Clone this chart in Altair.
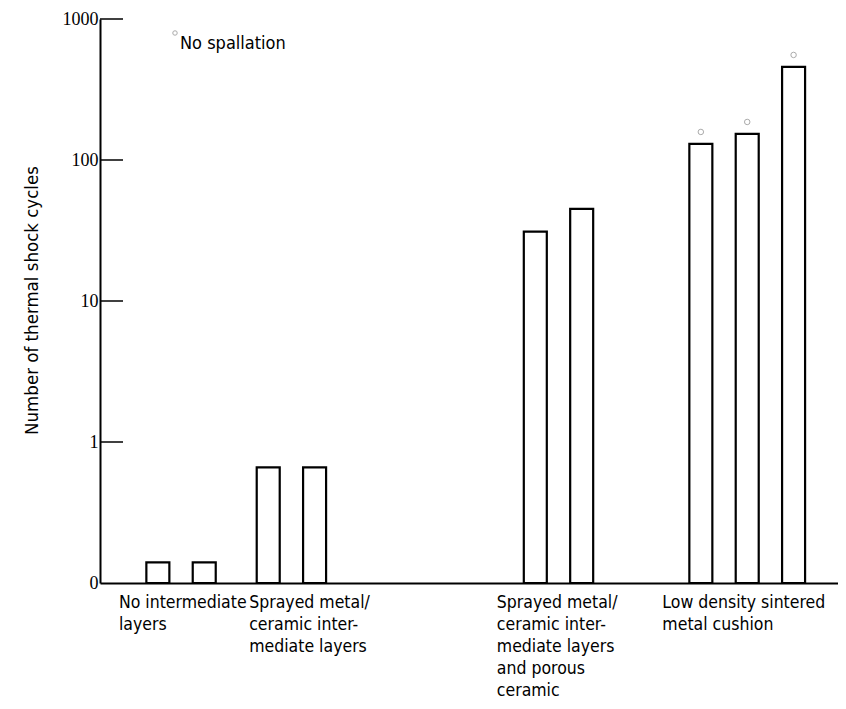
import altair as alt
import pandas as pd

# ---- data ----
groups = [
    "No intermediate\nlayers",
    "Sprayed metal/\nceramic inter-\nmediate layers",
    "Sprayed metal/\nceramic inter-\nmediate layers\nand porous\nceramic",
    "Low density sintered\nmetal cushion",
]
bar_group = [0, 0, 1, 1, 2, 2, 3, 3, 3]
cycles = [0.14, 0.14, 0.66, 0.66, 31, 45, 130, 153, 457]
no_spallation = [False, False, False, False, False, False, True, True, True]
y_ticks = [0.1, 1, 10, 100, 1000]
y_title = "Number of thermal shock cycles"
legend_text = "No spallation"

# ---- layout constants (x in units of one bar pitch) ----
GROUP_CENTER = [1.64, 4.02, 9.78, 13.85]
LABEL_LEFT = [0.30, 3.11, 8.45, 12.02]
PITCH = 1.0
X_MAX = 15.7
W, H = 738, 564
NARROW = "Liberation Sans Narrow, DejaVu Sans Condensed, Roboto Condensed, Arial Narrow, DejaVu Sans, sans-serif"
SERIF = "Liberation Serif, DejaVu Serif, serif"

rows = []
for g in range(len(groups)):
    idx = [i for i, b in enumerate(bar_group) if b == g]
    n = len(idx)
    for k, i in enumerate(idx):
        rows.append({
            "x": GROUP_CENTER[g] + (k - (n - 1) / 2) * PITCH,
            "cycles": cycles[i],
            "base": 0.1,
            "nospall": no_spallation[i],
        })
bars_df = pd.DataFrame(rows)
labels_df = pd.DataFrame({"x": LABEL_LEFT, "label": groups})
ticks_df = pd.DataFrame({"cycles": [v for v in y_ticks if v > 0.1]})

xscale = alt.Scale(domain=[0, X_MAX], nice=False, zero=False)
yscale = alt.Scale(type="log", domain=[0.1, 1000], nice=False)

x_axis = alt.Axis(
    labels=False, ticks=False, grid=False, title="",
    domainColor="black", domainWidth=2)
y_axis = alt.Axis(
    values=y_ticks,
    labelExpr="datum.value < 0.5 ? '0' : format(datum.value, 'd')",
    ticks=False, grid=False, domainColor="black", domainWidth=2,
    labelFont=SERIF, labelFontSize=18, labelPadding=2, labelColor="black",
    title=y_title, titleFont=NARROW, titleFontSize=18.5, titleFontWeight="normal",
    titleColor="black", titleX=-59, titleY=281, titleAngle=270,
    titleAlign="center", titleBaseline="bottom")

X = alt.X("x:Q", scale=xscale, axis=x_axis)
Y = alt.Y("cycles:Q", scale=yscale, axis=y_axis)

bars = alt.Chart(bars_df).mark_bar(
    fill="white", stroke="black", strokeWidth=2.2, size=23
).encode(x=X, y=Y, y2="base:Q")

tick_rules = alt.Chart(ticks_df).mark_rule(color="black", strokeWidth=1.5).encode(
    y=Y, x=alt.value(0), x2=alt.value(23),
)

circles = alt.Chart(bars_df).transform_filter("datum.nospall").mark_point(
    shape="circle", size=30, filled=False, stroke="#888", strokeWidth=1, yOffset=-12
).encode(x=X, y=Y)

labels = alt.Chart(labels_df).mark_text(
    align="left", baseline="top", lineBreak="\n", lineHeight=22,
    font=NARROW, fontSize=17.5, color="black"
).encode(
    x=X,
    y=alt.value(H + 11),
    text="label:N",
)

legend_df = pd.DataFrame({"t": [legend_text]})
legend_txt = alt.Chart(legend_df).mark_text(
    align="left", baseline="alphabetic", font=NARROW, fontSize=18, color="black"
).encode(x=alt.value(80), y=alt.value(30), text="t:N")
legend_pt = alt.Chart(legend_df).mark_point(
    shape="circle", size=20, filled=False, stroke="#888", strokeWidth=1
).encode(x=alt.value(75), y=alt.value(14))

chart = alt.layer(bars, tick_rules, circles, labels, legend_txt, legend_pt).properties(
    width=W, height=H,
    autosize=alt.AutoSizeParams(type="none"),
    padding={"left": 92, "top": 11, "right": 0, "bottom": 118},
    background="white",
).configure_view(stroke=None)

chart.save("out.html", embed_options={"renderer": "svg", "actions": False})
